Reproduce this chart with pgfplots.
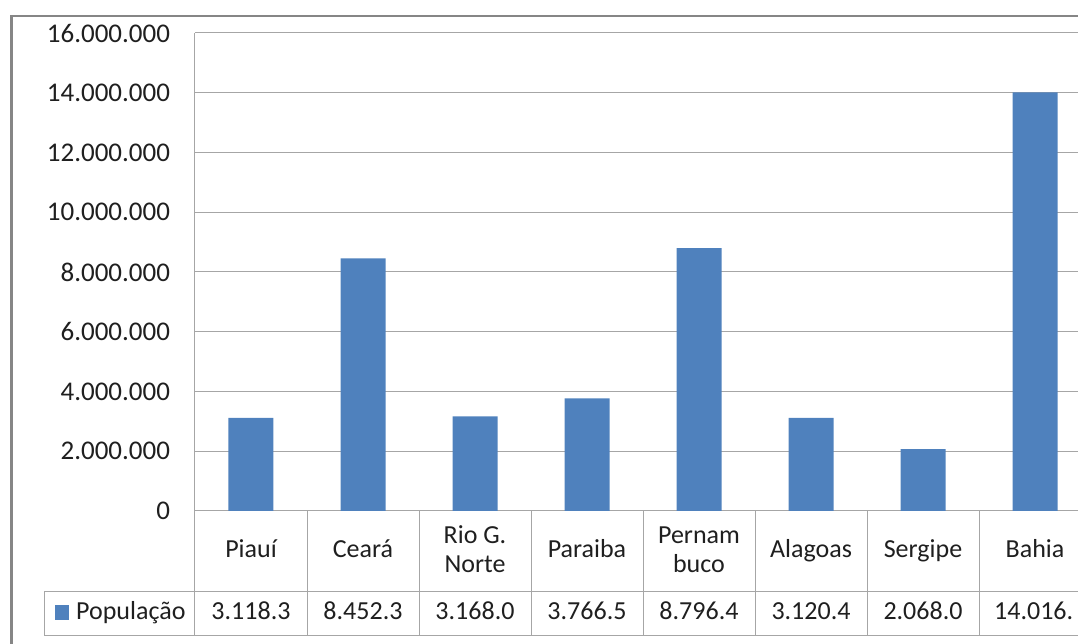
\documentclass[border=0pt]{standalone}
\usepackage{fontspec}
\setmainfont{Carlito}
\usepackage{pgfplots}
\pgfplotsset{compat=1.18}
\definecolor{barblue}{HTML}{4F81BD}
\definecolor{gridgray}{HTML}{A6A6A6}
\definecolor{framegray}{HTML}{868686}
\definecolor{txt}{HTML}{1F1F1F}
\newcommand\ff{\fontsize{26}{29}\selectfont}
\newcommand\fy{\fontsize{27}{30}\selectfont}
\begin{document}
\begin{tikzpicture}
\begin{axis}[
  scale only axis, width=896pt, height=478pt,
  xmin=-0.5, xmax=7.5, ymin=0, ymax=16000000,
  clip=false,
  ybar, bar width=45pt,
  axis x line=bottom, axis y line=left,
  axis line style={-, draw=gridgray, line width=1pt},
  ymajorgrids, grid style={gridgray, line width=1pt},
  major tick length=0pt,
  scaled y ticks=false,
  ytick={0,2000000,4000000,6000000,8000000,10000000,12000000,14000000,16000000},
  yticklabels={0,2.000.000,4.000.000,6.000.000,8.000.000,10.000.000,12.000.000,14.000.000,16.000.000},
  yticklabel style={font=\fy, text=txt, anchor=east, inner sep=0pt, outer sep=0pt},
  yticklabel shift=25pt,
  xtick={0,1,2,3,4,5,6,7},
  xticklabels={\strut Piauí, \strut Ceará, {\strut Rio G.\\\strut Norte}, \strut Paraiba, {\strut Pernam\\\strut buco}, \strut Alagoas, \strut Sergipe, \strut Bahia},
  xticklabel style={font=\ff, text=txt, align=center, anchor=center, inner sep=0pt, outer sep=0pt},
  xticklabel shift=41pt,
]
\addplot[fill=barblue, draw=none] coordinates {
  (0,3118300) (1,8452300) (2,3168000) (3,3766500)
  (4,8796400) (5,3120400) (6,2068000) (7,14016000)
};
\coordinate (O) at (axis cs:-0.5,0);
\end{axis}
\begin{scope}[shift={(O)}, x=1pt, y=1pt]
% reference pixel (px,py) -> (px-195, 511-py)
\draw[framegray, line width=2.6pt] (-183.7,-150) -- (-183.7,495) -- (920,495);
\begin{scope}[gridgray, line width=1pt]
\draw (-150,-80.5) -- (920,-80.5);
\draw (-150,-125) -- (920,-125);
\draw (-150,-125) -- (-150,-80.5);
\foreach \k in {0,...,8} { \draw (112*\k,0) -- (112*\k,-125); }
\end{scope}
\fill[barblue] (-140,-109) rectangle (-126,-94);
\node[font=\ff, text=txt, anchor=base west, inner sep=0pt] at (-119,-109) {População};
\foreach \v [count=\i from 0] in {3.118.3,8.452.3,3.168.0,3.766.5,8.796.4,3.120.4,2.068.0} {
  \node[font=\ff, text=txt, anchor=base, inner sep=0pt] at (56+112*\i,-109) {\v};
}
\node[font=\ff, text=txt, anchor=base west, inner sep=0pt] at (799,-109) {14.016.};
\pgfresetboundingbox
\path[use as bounding box] (-195,-133) rectangle (883,511);
\end{scope}
\end{tikzpicture}
\end{document}
